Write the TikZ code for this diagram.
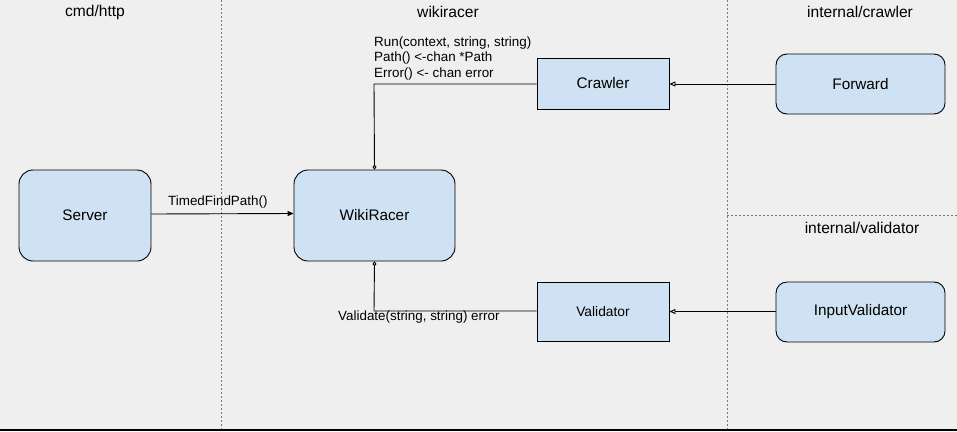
\documentclass[tikz,border=0pt]{standalone}
\usepackage{fontspec}
\setmainfont{Liberation Sans}
\usetikzlibrary{arrows.meta}
\definecolor{bg}{HTML}{EFEFEF}
\definecolor{boxfill}{HTML}{CFE2F3}
\definecolor{sep}{HTML}{777777}
\begin{document}
\begin{tikzpicture}[x=1pt,y=-1pt,
  rbox/.style={draw=black,fill=boxfill,line width=0.9pt,rounded corners=14pt,inner sep=0pt,font=\fontsize{15.3}{17}\selectfont},
  sbox/.style={draw=black,fill=boxfill,line width=0.9pt,inner sep=0pt,font=\fontsize{15.3}{17}\selectfont},
  head/.style={font=\fontsize{15.6}{17}\selectfont,inner sep=0pt},
  lbl/.style={font=\fontsize{13.4}{15.5}\selectfont,inner sep=0pt},
  conn/.style={line width=0.9pt},
  dtip/.style={-{Diamond[open,length=5pt,width=4pt]}},
  sepline/.style={draw=sep,line width=0.7pt,dash pattern=on 2pt off 2pt}]
\fill[bg] (0,0) rectangle (957,431);
\useasboundingbox (0,0) rectangle (957,431);
% separators
\draw[sepline] (221,0) -- (221,429);
\draw[sepline] (727,0) -- (727,429);
\draw[sepline] (727,215) -- (957,215);
\draw[line width=1.5pt] (0,430) -- (957,430);
% headers
\node[head] (h1) at (95,12) {cmd/http};
\node[head] (h2) at (448,12) {wikiracer};
\node[head] (h3) at (860,12) {internal/crawler};
\node[head] (h4) at (862,228) {internal/validator};
% boxes
\node[rbox,minimum width=132pt,minimum height=91pt] (server) at (85,215.5) {Server};
\node[rbox,minimum width=161pt,minimum height=91pt] (wiki) at (374.5,215.5) {WikiRacer};
\node[sbox,minimum width=132pt,minimum height=51pt] (crawler) at (603,83.5) {Crawler};
\node[sbox,minimum width=132pt,minimum height=59pt,font=\fontsize{13.8}{15}\selectfont] (validator) at (603,311.5) {Validator};
\node[rbox,rounded corners=11pt,minimum width=169pt,minimum height=60pt] (forward) at (860.5,84) {Forward};
\node[rbox,rounded corners=11pt,minimum width=169pt,minimum height=60pt] (inputval) at (860.5,312) {InputValidator};
% connectors
\coordinate (c1) at (374,84);
\coordinate (c2) at (374,311);
\draw[conn,-{Triangle[length=6pt,width=5pt]}] (server.east |- 0,214) -- (wiki.west |- 0,213.5);
\node[lbl,anchor=south west] (ltfp) at (168,208) {TimedFindPath()};
\draw[conn,dtip] (crawler.west |- c1) -- (c1) -- (wiki.north);
\node[lbl,anchor=south west,align=left] (lcr) at (374,80) {Run(context, string, string)\\Path() <-chan *Path\\Error() <- chan error};
\draw[conn,dtip] (validator.west |- c2) -- (c2) -- (wiki.south);
\node[lbl,anchor=north west] (lval) at (338,311) {Validate(string, string) error};
\draw[conn,-{Triangle[open,length=6pt,width=5pt]}] (forward.west) -- (crawler.east |- forward.west);
\draw[conn,-{Triangle[open,length=6pt,width=5pt]}] (inputval.west |- 0,311.5) -- (validator.east |- 0,311.5);
\end{tikzpicture}
\end{document}
